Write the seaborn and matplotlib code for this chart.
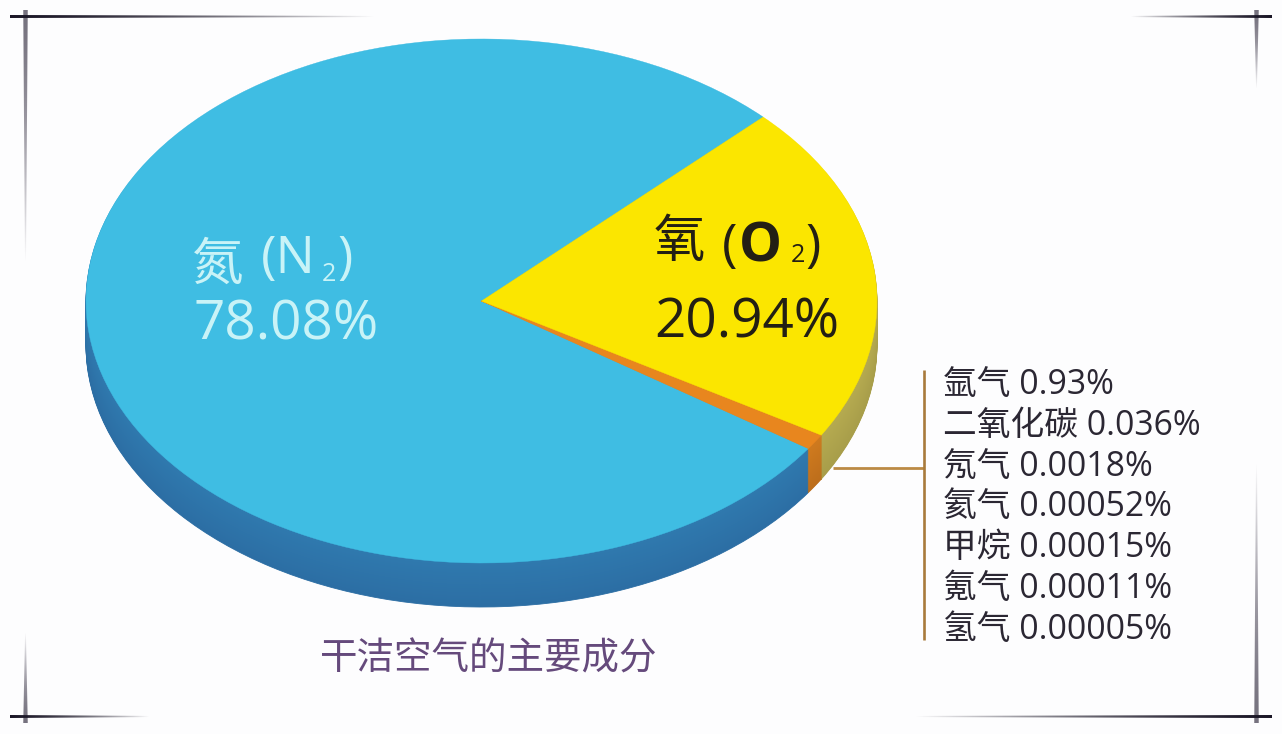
import numpy as np
import matplotlib
matplotlib.use("Agg")
import matplotlib.pyplot as plt
import seaborn as sns

# ---- data ----
main_names = ["氮", "氧"]
main_values = [78.08, 20.94]
main_labels = ["78.08%", "20.94%"]
trace_names = ["氩气", "二氧化碳", "氖气", "氦气", "甲烷", "氪气", "氢气"]
trace_values = [0.93, 0.036, 0.0018, 0.00052, 0.00015, 0.00011, 0.00005]
trace_labels = ["0.93%", "0.036%", "0.0018%", "0.00052%", "0.00015%", "0.00011%", "0.00005%"]
caption = "干洁空气的主要成分"

# slices run counter-clockwise from the top right: N2, trace gases, O2
values = [main_values[0]] + trace_values + [main_values[1]]

W, H = 1282, 734
BG = "#fdfdfe"
sns.set_theme(style="white")
FONT = ["Open Sans", "Noto Sans CJK SC", "DejaVu Sans"]
plt.rcParams["font.family"] = FONT

fig = plt.figure(figsize=(W / 100, H / 100), dpi=100, facecolor=BG)
ax = fig.add_axes([0, 0, 1, 1])
ax.patch.set_alpha(0)

cx, cy, rx, ry, depth = 481.5, 301.0, 395.5, 262.0, 44
start = 44.6


def colours(n2, tr, o2):
    return [n2] + [tr] * len(trace_values) + [o2]


def draw_layer(cols, centre, lw):
    wedges, _ = ax.pie(values, colors=cols, startangle=start, counterclock=True,
                       center=centre, radius=1, normalize=True)
    for w in wedges:
        w.set_edgecolor(w.get_facecolor())
        w.set_linewidth(lw)


blue_side = sns.blend_palette(["#2c6ea4", "#2f79ae"], depth)
tr_side = sns.blend_palette(["#bd6e1c", "#cf7a1e"], depth)
o2_side = sns.blend_palette(["#a89e4a", "#b5aa50"], depth)

for i in range(depth):
    draw_layer(colours(blue_side[i], tr_side[i], o2_side[i]), (0, -(depth - i) / ry), 0.6)
draw_layer(colours("#3fbde3", "#e8861e", "#fbe600"), (0, 0), 0.3)

ax.set_aspect("auto")
ax.set_xlim(-cx / rx, (W - cx) / rx)
ax.set_ylim((cy - H) / ry, cy / ry)
ax.axis("off")

# pixel overlay for the annotation layer
ov = fig.add_axes([0, 0, 1, 1], zorder=5)
ov.patch.set_alpha(0)


def fade(x0, y0, x1, y1, lw0, lw1, colour, a0=1.0):
    """Tapered rule that fades out from (x0, y0) to (x1, y1), drawn as a small RGBA image."""
    horizontal = y0 == y1
    length = int(abs(x1 - x0) if horizontal else abs(y1 - y0))
    across = 11
    t = np.linspace(0, 1, length)
    alpha = a0 * (1 - t ** 1.6)
    lw = lw0 + (lw1 - lw0) * t
    d = np.abs(np.arange(across) - across // 2)[None, :]
    cover = np.clip(lw[:, None] / 2 - d + 0.5, 0, 1) * alpha[:, None]
    img = np.zeros((length, across, 4))
    img[..., :3] = matplotlib.colors.to_rgb(colour)
    img[..., 3] = cover
    half = across / 2
    if horizontal:
        img = img.transpose(1, 0, 2)
        if x1 < x0:
            img = img[:, ::-1]
        extent = (min(x0, x1), max(x0, x1), y0 + half, y0 - half)
    else:
        if y1 < y0:
            img = img[::-1]
        extent = (x0 - half, x0 + half, max(y0, y1), min(y0, y1))
    ov.imshow(img, extent=extent, aspect="auto", interpolation="nearest", zorder=2)


DARK = "#1a1626"
GREY = "#6f6b78"
# corner rules
fade(25, 10, 25, 262, 4.5, 1.0, GREY, 0.95)
fade(25, 723, 25, 632, 4.5, 0.8, GREY, 0.95)
fade(1256, 10, 1256, 89, 4.5, 0.8, GREY, 0.95)
fade(1256, 723, 1256, 463, 4.5, 1.0, GREY, 0.95)
fade(10, 17, 375, 17, 3.0, 1.2, DARK)
fade(1272, 17, 1130, 17, 3.0, 1.2, DARK)
fade(10, 717, 150, 717, 3.0, 1.2, DARK)
fade(1272, 717, 915, 717, 3.0, 1.2, DARK)

# leader lines
ov.plot([833, 924], [468, 468], color="#bb8a44", lw=2.0, solid_capstyle="butt")
ov.plot([924, 924], [370, 640], color="#a87a3c", lw=1.9, solid_capstyle="butt")

ov.set_xlim(0, W)
ov.set_ylim(H, 0)
ov.axis("off")


def put(x, y, s, pt, colour, weight="normal"):
    ov.text(x, y, s, fontsize=pt, color=colour, fontweight=weight, ha="left", va="baseline",
            family=FONT)


# nitrogen label
N_C = "#c9f3f7"
put(192, 280, main_names[0], 37, N_C)
put(261, 273, "(N", 37.5, N_C)
put(322, 281, "2", 18, N_C)
put(337, 273, ")", 37.5, N_C)
put(193, 340, main_labels[0], 39.5, N_C)

# oxygen label
O_C = "#231f14"
put(654, 257, main_names[1], 37, O_C)
put(722, 261, "(", 37.5, O_C)
put(739, 262, "O", 39, O_C, "bold")
put(790.5, 262, "2", 18, O_C)
put(805, 261, ")", 37.5, O_C)
put(654, 337, main_labels[1], 39.5, O_C)

# trace gases list
for i, (name, lab) in enumerate(zip(trace_names, trace_labels)):
    put(943, 394 + i * 40.8, f"{name} {lab}", 24.3, "#2b2733")

# caption
put(320, 669, caption, 27, "#654a7c")

fig.savefig("out.png", dpi=100, facecolor=BG)
